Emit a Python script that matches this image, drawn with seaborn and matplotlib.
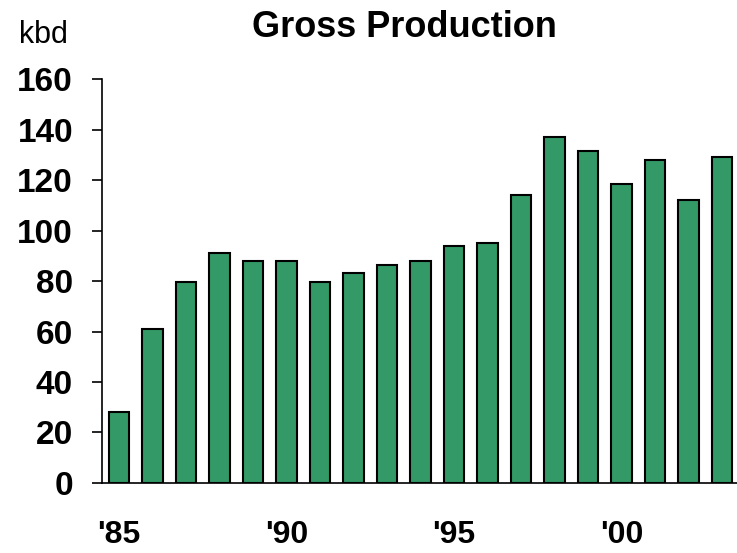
import matplotlib
matplotlib.use("Agg")
import matplotlib.pyplot as plt
import seaborn as sns
import pandas as pd

# gross production, kbd
years = [1985, 1986, 1987, 1988, 1989, 1990, 1991, 1992, 1993, 1994,
         1995, 1996, 1997, 1998, 1999, 2000, 2001, 2002, 2003]
production = [28, 61, 79.5, 91, 88, 88, 79.5, 83, 86.5, 88,
              94, 95, 114, 137, 131.5, 118.5, 128, 112, 129]
tick_years = [1985, 1990, 1995, 2000]
tick_labels = ["'85", "'90", "'95", "'00"]
y_ticks = [0, 20, 40, 60, 80, 100, 120, 140, 160]

sns.set_style("ticks")
plt.rcParams["font.family"] = ["Liberation Sans", "DejaVu Sans"]
plt.rcParams["text.color"] = "black"
plt.rcParams["xtick.color"] = "black"
plt.rcParams["ytick.color"] = "black"

fig = plt.figure(figsize=(7.37, 5.53), dpi=100)
ax = fig.add_axes([0.1387, 0.1266, 0.8637, 0.7305])

df = pd.DataFrame({"year": years, "kbd": production})
sns.barplot(data=df, x="year", y="kbd", color="#339966", saturation=1,
            edgecolor="black", linewidth=1.5, width=0.6, ax=ax)

ax.set_xlim(-0.5, 18.5)
ax.set_ylim(0, 160)
ax.set_xlabel("")
ax.set_ylabel("")

ax.set_yticks(y_ticks)
ax.set_yticklabels([str(v) for v in y_ticks], fontsize=24, fontweight="bold")
ax.tick_params(axis="y", length=7, width=1.2, pad=14)

ax.set_xticks([years.index(y) for y in tick_years])
ax.set_xticklabels(tick_labels, fontsize=23, fontweight="bold")
ax.tick_params(axis="x", length=0, pad=27)

sns.despine(ax=ax)
for side in ["left", "bottom"]:
    ax.spines[side].set_color("black")
    ax.spines[side].set_linewidth(1.2)

fig.text(404 / 737, 1 - 37 / 553, "Gross Production", ha="center",
         va="baseline", fontsize=26, fontweight="bold")
fig.text(43 / 737, 1 - 43 / 553, "kbd", ha="center", va="baseline", fontsize=22)

fig.savefig("out.png", dpi=100)
